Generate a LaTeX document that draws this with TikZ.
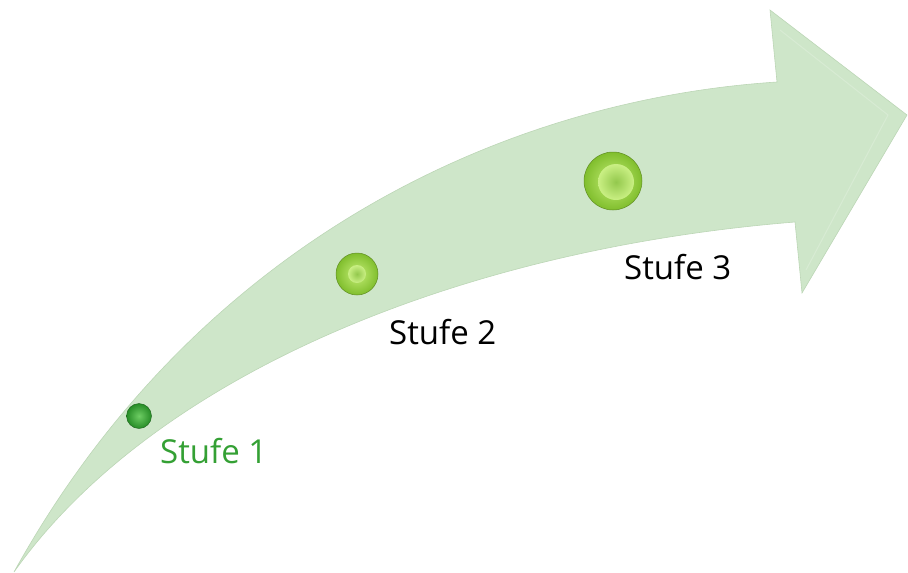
\documentclass[tikz,border=0pt]{standalone}
\usepackage{fontspec}
\setmainfont{Open Sans}
\definecolor{arrowfill}{RGB}{206,230,201}
\definecolor{arrowedge}{RGB}{188,214,182}
\definecolor{labgreen}{RGB}{52,160,52}
\definecolor{ballout}{RGB}{38,140,38}
\definecolor{ballin}{RGB}{110,205,100}
\definecolor{limeout}{RGB}{128,190,45}
\definecolor{limein}{RGB}{196,238,118}
\tikzset{
  lbl/.style={font=\fontsize{33}{36}\selectfont, inner sep=0pt, anchor=base west},
  dotsmall/.style={circle, inner sep=0pt, inner color=ballin, outer color=ballout, draw=ballout!70!black, line width=0.4pt},
  dotlime/.style={circle, inner sep=0pt, inner color=limein, outer color=limeout, draw=limeout!75!black, line width=0.5pt},
  dotcore/.style={circle, inner sep=0pt, inner color=limeout!85!white, outer color=limein!90!white},
}
\begin{document}
\begin{tikzpicture}[x=1pt,y=-1pt]
\useasboundingbox (0,0) rectangle (908,573);
% arrow body
\fill[arrowfill, draw=arrowedge, line width=0.6pt, line join=miter]
  (14,572) .. controls (195,245) and (500,100) .. (777,82)
  -- (770,10) -- (907,115) -- (802,293) -- (795,222)
  .. controls (450,250) and (150,380) .. cycle;
% subtle bevel on head
\draw[white, opacity=0.2, line width=1pt] (780,30) -- (888,115) -- (806,270);
% dots
\node[dotsmall, minimum size=25pt] (d1) at (139,416) {};
\node[dotlime, minimum size=42pt] (d2) at (357,274) {};
\node[dotcore, minimum size=18pt] (d2i) at (357,274) {};
\node[dotlime, minimum size=58pt] (d3) at (613,181) {};
\node[dotcore, minimum size=36pt] (d3i) at (616,182) {};
% labels
\node[lbl, text=labgreen] (t1) at (160,463) {Stufe 1};
\node[lbl, text=black] (t2) at (389,344) {Stufe 2};
\node[lbl, text=black] (t3) at (624,279) {Stufe 3};
\end{tikzpicture}
\end{document}
